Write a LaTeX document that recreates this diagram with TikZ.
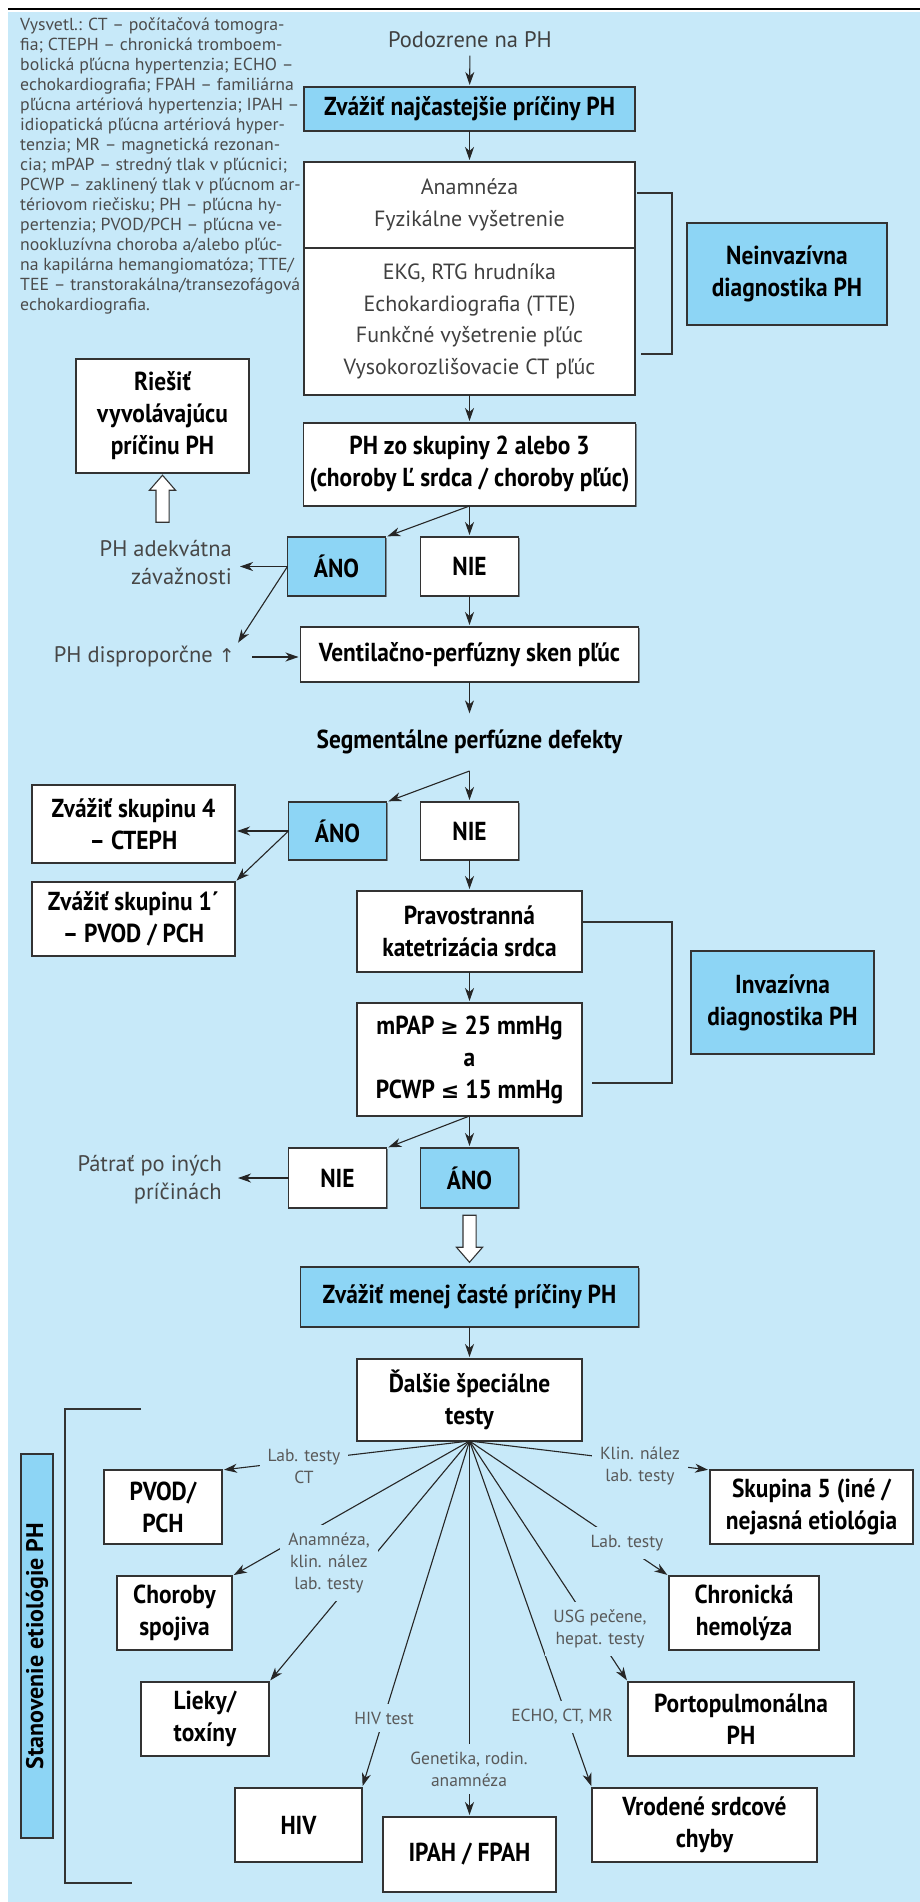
\documentclass[tikz,border=0pt]{standalone}
\usepackage{fontspec}
\setmainfont{PT Sans}
\newfontfamily\condfont[FakeStretch=0.9]{PT Sans}
\newfontfamily\widefont[FakeStretch=1.02]{PT Sans}
\newfontfamily\symfont{DejaVu Sans}
\usetikzlibrary{positioning,arrows.meta,calc,shadows,shapes.arrows}
\definecolor{bgblue}{HTML}{C7E9F9}
\definecolor{boxblue}{HTML}{8DD5F5}

\begin{document}
\begin{tikzpicture}[
      x=1pt, y=-1pt,
      >={Stealth[length=13pt,width=9pt,inset=4pt]}
    ]

    \tikzstyle{box} = [rectangle, draw=black!80, line width=1.3pt, fill=white, align=center, inner sep=2pt, outer sep=0pt, text=black, font=\condfont\bfseries\fontsize{26}{32}\selectfont, drop shadow={shadow xshift=1pt, shadow yshift=-1.2pt, opacity=0.4, fill=black}]
    \tikzstyle{bluebox} = [box, fill=boxblue]
    \tikzstyle{plainbox} = [box, text=black!75, font=\fontsize{22}{31.5}\selectfont]
    \tikzstyle{note} = [align=right, inner sep=2pt, text=black!72, font=\fontsize{22.5}{28}\selectfont]
    \tikzstyle{tag} = [align=center, inner sep=8pt, fill=bgblue, text=black!65, font=\fontsize{17.5}{22}\selectfont]
    \tikzstyle{flow} = [->, line width=1.1pt, draw=black!85, shorten >=2pt]
    \tikzstyle{hollow} = [single arrow, draw=black!80, line width=1.1pt, fill=white, inner sep=0pt, minimum height=47pt, single arrow head extend=6.5pt, single arrow tip angle=82]
    \tikzstyle{bracket} = [line width=1.2pt, draw=black!80]

    \useasboundingbox (0,0) rectangle (920,1902);
    \fill[bgblue] (8,12) rectangle (920,1902);
    \draw[line width=2.6pt] (8,9) -- (920,9);

    % abbreviations
    \node [anchor=north west, align=left, inner sep=0pt, text=black!70, font=\widefont\fontsize{17.4}{20}\selectfont] (legend) at (20,18) {
    Vysvetl.: CT – počítačová tomogra-\\
    fia; CTEPH – chronická tromboem-\\
    bolická pľúcna hypertenzia; ECHO –\\
    echokardiografia; FPAH – familiárna\\
    pľúcna artériová hypertenzia; IPAH –\\
    idiopatická pľúcna artériová hyper-\\
    tenzia; MR – magnetická rezonan-\\
    cia; mPAP – stredný tlak v pľúcnici;\\
    PCWP – zaklinený tlak v pľúcnom ar-\\
    tériovom riečisku; PH – pľúcna hy-\\
    pertenzia; PVOD/PCH – pľúcna ve-\\
    nookluzívna choroba a/alebo pľúc-\\
    na kapilárna hemangiomatóza; TTE/\\
    TEE – transtorakálna/transezofágová\\
    echokardiografia.};

    % noninvasive diagnostics
    \node [text=black!75, font=\fontsize{22.5}{24}\selectfont] (suspect) at (470,40) {Podozrene na PH};
    \node [bluebox, minimum width=331pt, minimum height=44pt] (common) at (469.5,109) {Zvážiť najčastejšie príčiny PH};
    \node [plainbox, minimum width=331pt, minimum height=86pt, below=31pt of common] (history) {Anamnéza\\Fyzikálne vyšetrenie};
    \node [plainbox, minimum width=331pt, minimum height=147pt, below=0pt of history] (tests) {EKG, RTG hrudníka\\Echokardiografia (TTE)\\Funkčné vyšetrenie pľúc\\Vysokorozlišovacie CT pľúc};
    \node [bluebox, minimum width=200pt, minimum height=102pt] (noninv) at (787,274) {Neinvazívna\\diagnostika PH};

    \node [box, minimum width=332pt, minimum height=83pt, below=28pt of tests] (group23) {PH zo skupiny 2 alebo 3\\(choroby Ľ srdca / choroby pľúc)};
    \node [box, minimum width=98pt, minimum height=59pt, below=31pt of group23] (noA) {NIE};
    \node [bluebox, minimum width=98pt, minimum height=59pt, left=35pt of noA] (yesA) {ÁNO};
    \node [box, minimum width=173pt, minimum height=114pt] (treat) at (162.5,416) {Riešiť\\vyvolávajúcu\\príčinu PH};
    \node [note, anchor=east] (adequate) at (234,563) {PH adekvátna\\závažnosti};
    \node [note, anchor=east] (dispro) at (237,657) {PH disproporčne {\symfont\fontsize{19}{24}\selectfont ↑}};
    \node [box, minimum width=338pt, minimum height=55pt, below=31pt of noA] (vq) {Ventilačno-perfúzny sken pľúc};

    \node [font=\condfont\bfseries\fontsize{26}{32}\selectfont] (segm) at ($(vq.south)+(0,60)$) {Segmentálne perfúzne defekty};
    \coordinate (fork) at ($(vq.south)+(0,89)$);
    \node [box, minimum width=98pt, minimum height=58pt, below=31pt of fork] (noB) {NIE};
    \node [bluebox, minimum width=98pt, minimum height=58pt, left=34pt of noB] (yesB) {ÁNO};
    \node [box, minimum width=203pt, minimum height=78pt] (cteph) at (133.5,824) {Zvážiť skupinu 4\\– CTEPH};
    \node [box, minimum width=203pt, minimum height=74pt] (pvodA) at (133.5,919) {Zvážiť skupinu 1´\\– PVOD / PCH};

    % invasive diagnostics
    \node [box, minimum width=225pt, minimum height=81pt, below=31pt of noB] (rhc) {Pravostranná\\katetrizácia srdca};
    \node [box, minimum width=225pt, minimum height=113pt, below=31pt of rhc] (hemo) {mPAP {\symfont\fontsize{22}{32}\selectfont ≥} 25 mmHg\\a\\PCWP {\symfont\fontsize{22}{32}\selectfont ≤} 15 mmHg};
    \node [bluebox, minimum width=183pt, minimum height=103pt] (inv) at (782.5,1002.5) {Invazívna\\diagnostika PH};
    \node [bluebox, minimum width=98pt, minimum height=60pt, below=32pt of hemo] (yesC) {ÁNO};
    \node [box, minimum width=98pt, minimum height=60pt, left=34pt of yesC] (noC) {NIE};
    \node [note, anchor=east] (other) at (224,1180) {Pátrať po iných\\príčinách};

    % etiology
    \node [bluebox, minimum width=338pt, minimum height=60pt, below=59pt of yesC] (rare) {Zvážiť menej časté príčiny PH};
    \node [box, minimum width=225pt, minimum height=82pt, below=32pt of rare] (special) {Ďalšie špeciálne\\testy};
    \node [bluebox, rotate=90, minimum width=384pt, minimum height=32pt, inner sep=0pt, font=\bfseries\fontsize{24}{26}\selectfont] (etiology) at (37,1646) {Stanovenie etiológie PH};

    \node [box, minimum width=118pt, minimum height=74pt] (pvodB) at (163,1507) {PVOD/\\PCH};
    \node [box, minimum width=203pt, minimum height=74pt] (group5) at (811.5,1507) {Skupina 5 (iné /\\nejasná etiológia};
    \node [box, minimum width=115pt, minimum height=74pt] (ctd) at (174.5,1613) {Choroby\\spojiva};
    \node [box, minimum width=150pt, minimum height=74pt] (hemol) at (744,1613) {Chronická\\hemolýza};
    \node [box, minimum width=128pt, minimum height=74pt] (drugs) at (205,1719) {Lieky/\\toxíny};
    \node [box, minimum width=226pt, minimum height=74pt] (porto) at (741,1719) {Portopulmonálna\\PH};
    \node [box, minimum width=127pt, minimum height=74pt] (hiv) at (298.5,1825) {HIV};
    \node [box, minimum width=173pt, minimum height=75pt] (ipah) at (469.5,1854.5) {IPAH / FPAH};
    \node [box, minimum width=225pt, minimum height=74pt] (chd) at (704.5,1825) {Vrodené srdcové\\chyby};

    % arrows
    \draw [flow, shorten <=4pt] (suspect) -- (common);
    \draw [flow] (common) -- (history);
    \draw [flow] (tests) -- (group23);
    \draw [flow] (group23.south) -- (yesA.north east);
    \draw [flow] (group23) -- (noA);
    \draw [flow] (noA) -- (vq);
    \draw [flow, shorten >=6pt] (yesA.west) -- (yesA.west -| adequate.east);
    \draw [flow] (yesA.west) -- (dispro.north east);
    \draw [flow, shorten <=15pt] (dispro.east) -- (dispro.east -| vq.west);
    \draw [flow, shorten >=13pt] (vq) -- (segm);
    \draw [flow] (fork) -- (yesB.north east);
    \draw [flow] (fork) -- (noB);
    \draw [flow] (yesB.west) -- (yesB.west -| cteph.east);
    \draw [flow] (yesB.west) -- (pvodA.north east);
    \draw [flow] (noB) -- (rhc);
    \draw [flow] (rhc) -- (hemo);
    \draw [flow] (hemo.south) -- (noC.north east);
    \draw [flow] (hemo) -- (yesC);
    \draw [flow, shorten >=14pt] (noC.west) -- (noC.west -| other.east);
    \draw [flow] (rare) -- (special);

    \node [hollow, rotate=90] (upA) at ($(treat.south)+(0,29.5)$) {\rule{0pt}{12pt}};
    \node [hollow, rotate=-90] (downC) at ($(yesC.south)+(0,27)$) {\rule{0pt}{12pt}};

    \foreach \target in {pvodB.north east, group5.north west, ctd.north east, hemol.north west, drugs.north east, porto.north west, hiv.north east, ipah.north, chd.north west}
      \draw [flow] (special.south) -- (\target);

    \node [tag] (tagA) at (304,1466) {Lab. testy\\CT};
    \node [tag] (tagB) at (640,1466) {Klin. nález\\lab. testy};
    \node [tag] (tagC) at (329,1563) {Anamnéza,\\klin. nález\\lab. testy};
    \node [tag] (tagD) at (627,1543) {Lab. testy};
    \node [tag] (tagE) at (600,1629) {USG pečene,\\hepat. testy};
    \node [tag] (tagF) at (384,1718) {HIV test};
    \node [tag] (tagG) at (469,1769) {Genetika, rodin.\\anamnéza};
    \node [tag] (tagH) at (562,1717) {ECHO, CT, MR};

    % brackets
    \draw [bracket] (637,193) -- (672,193) -- (672,354) -- (641,354);
    \draw [bracket] (582,922) -- (672,922) -- (672,1083) -- (592,1083);
    \draw [bracket] (141,1409) -- (65,1409) -- (65,1883) -- (132,1883);

\end{tikzpicture}
\end{document}
